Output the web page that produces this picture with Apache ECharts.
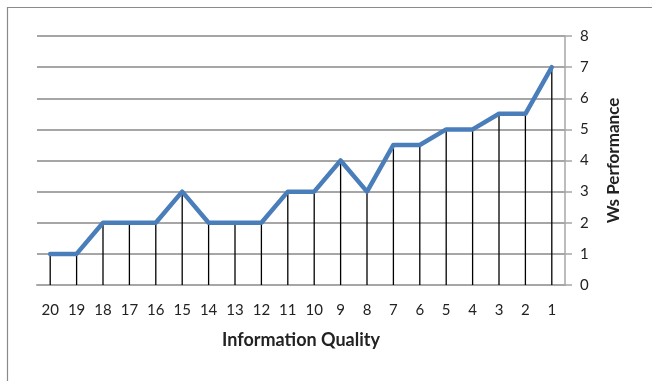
<!DOCTYPE html>
<html>
<head>
<meta charset="utf-8">
<script src="https://cdn.jsdelivr.net/npm/echarts@6/dist/echarts.min.js"></script>
<style>
  html, body { margin: 0; padding: 0; background: #fff; }
  #chart { width: 652px; height: 381px; }
</style>
</head>
<body>
<div id="chart"></div>
<script>
// Information quality ranks (descending order along the axis)
const categories = ['20','19','18','17','16','15','14','13','12','11','10','9','8','7','6','5','4','3','2','1'];
// Ws performance per rank
const performance = [1, 1, 2, 2, 2, 3, 2, 2, 2, 3, 3, 4, 3, 4.5, 4.5, 5, 5, 5.5, 5.5, 7];
const yTicks = { min: 0, max: 8, interval: 1 };

const chart = echarts.init(document.getElementById('chart'), null, { renderer: 'canvas' });
const font = 'Lato, "Open Sans", "Liberation Sans", sans-serif';

chart.setOption({
  animation: false,
  backgroundColor: '#fff',
  graphic: [{
    type: 'rect',
    shape: { x: 7.5, y: 7.5, width: 700, height: 420 },
    style: { fill: 'none', stroke: '#8a8a8a', lineWidth: 1.2 },
    silent: true,
    z: -1
  }],
  grid: { left: 37, right: 87, top: 36, bottom: 96 },
  xAxis: {
    type: 'category',
    data: categories,
    boundaryGap: true,
    name: 'Information Quality',
    nameLocation: 'middle',
    nameGap: 46,
    nameTextStyle: { fontFamily: font, fontWeight: 'bold', fontSize: 18, color: '#222' },
    axisLine: { show: true, lineStyle: { color: '#a6a6a6', width: 2 } },
    axisTick: { show: false },
    axisLabel: { fontFamily: font, fontSize: 15, color: '#222', margin: 18, interval: 0 },
    splitLine: { show: false }
  },
  yAxis: {
    type: 'value',
    position: 'right',
    min: yTicks.min,
    max: yTicks.max,
    interval: yTicks.interval,
    name: 'Ws Performance',
    nameLocation: 'middle',
    nameRotate: 90,
    nameGap: 40,
    nameTextStyle: { fontFamily: font, fontWeight: 'bold', fontSize: 17, color: '#222' },
    axisLine: { show: true, lineStyle: { color: '#a6a6a6', width: 1.5 } },
    axisTick: { show: true, length: 7, lineStyle: { color: '#a6a6a6', width: 1.5 } },
    axisLabel: { fontFamily: font, fontSize: 15, color: '#222', margin: 15 },
    splitLine: { show: true, lineStyle: { color: '#a6a6a6', width: 2 } }
  },
  series: [
    {
      // vertical drop lines from each point down to zero
      type: 'bar',
      data: performance,
      barWidth: 1.3,
      itemStyle: { color: '#000' },
      z: 2,
      silent: true
    },
    {
      type: 'line',
      data: performance,
      showSymbol: false,
      symbol: 'none',
      lineStyle: { color: '#4a7ebb', width: 4.5, join: 'round', cap: 'round' },
      z: 3
    }
  ]
});
</script>
</body>
</html>
